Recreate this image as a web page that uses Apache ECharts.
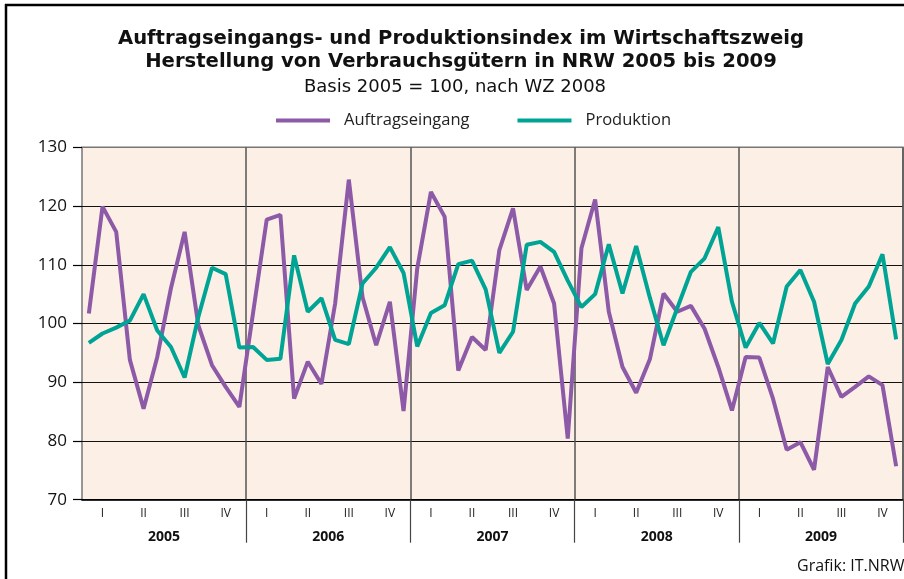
<!DOCTYPE html>
<html>
<head>
<meta charset="utf-8">
<script src="https://cdn.jsdelivr.net/npm/echarts@6/dist/echarts.min.js"></script>
<style>
html,body{margin:0;padding:0;background:#fff;}
#chart{width:904px;height:579px;}
</style>
</head>
<body>
<div id="chart"></div>
<script>
const years = ['2005', '2006', '2007', '2008', '2009'];
const quarterLabels = ['I', 'II', 'III', 'IV'];
const months = [];
years.forEach(function (y) { for (let m = 1; m <= 12; m++) months.push(y + '-' + (m < 10 ? '0' + m : m)); });

const auftragseingang = [
  101.7, 119.9, 115.6, 93.8, 85.5, 94.3, 106.0, 115.6, 99.7, 92.9, 89.2, 85.8,
  101.8, 117.7, 118.5, 87.2, 93.5, 89.7, 103.4, 124.5, 104.5, 96.3, 103.7, 85.1,
  109.4, 122.4, 118.2, 92.0, 97.7, 95.5, 112.5, 119.6, 105.7, 109.7, 103.4, 80.4,
  112.8, 121.1, 102.0, 92.6, 88.2, 93.9, 105.1, 102.0, 103.0, 99.1, 92.6, 85.2,
  94.3, 94.2, 87.2, 78.5, 79.8, 75.1, 92.6, 87.5, 89.2, 91.0, 89.5, 75.7
];
const produktion = [
  96.7, 98.3, 99.3, 100.5, 105.0, 98.8, 96.0, 90.8, 101.1, 109.5, 108.4, 95.9,
  96.0, 93.8, 94.0, 111.6, 102.0, 104.3, 97.2, 96.5, 106.8, 109.5, 113.0, 108.6,
  96.1, 101.8, 103.1, 110.1, 110.7, 105.8, 95.0, 98.6, 113.4, 113.9, 112.2, 107.3,
  102.8, 105.0, 113.5, 105.1, 113.2, 104.4, 96.3, 102.6, 108.8, 111.1, 116.4, 103.7,
  95.9, 100.1, 96.6, 106.3, 109.1, 103.7, 93.1, 97.2, 103.4, 106.3, 111.8, 97.3
];

const chart = echarts.init(document.getElementById('chart'), null, {renderer: 'canvas'});
const FONT = 'Open Sans';
chart.setOption({
  animation: false,
  backgroundColor: '#ffffff',
  textStyle: {fontFamily: FONT},
  title: [
    {
      text: 'Auftragseingangs- und Produktionsindex im Wirtschaftszweig\nHerstellung von Verbrauchsgütern in NRW 2005 bis 2009',
      left: 461, top: 27.5, padding: 0, textAlign: 'center',
      textStyle: {fontFamily: 'DejaVu Sans', fontSize: 19.6, fontWeight: 'bold', lineHeight: 23, color: '#111'}
    },
    {
      text: 'Basis 2005 = 100, nach WZ 2008',
      left: 455, top: 76, padding: 0, textAlign: 'center',
      textStyle: {fontFamily: 'DejaVu Sans', fontSize: 18, fontWeight: 'normal', lineHeight: 22, color: '#111'}
    },
    {
      text: 'Grafik: IT.NRW',
      left: 797, top: 558, padding: 0,
      textStyle: {fontFamily: FONT, fontSize: 16, fontWeight: 'normal', color: '#111'}
    }
  ],
  legend: {
    top: 112, left: 276, padding: 0,
    icon: 'rect', itemWidth: 54, itemHeight: 4, itemGap: 48,
    textStyle: {fontFamily: FONT, fontSize: 16.5, color: '#222', padding: [0, 0, 0, 9]},
    data: ['Auftragseingang', 'Produktion']
  },
  grid: {
    left: 82, right: 1, top: 147.3, bottom: 79.3,
    show: true, backgroundColor: '#fcefe6', borderColor: '#777', borderWidth: 1.5,
    containLabel: false
  },
  xAxis: [
    {
      type: 'category', data: months, boundaryGap: true,
      axisLine: {show: true, lineStyle: {color: '#000', width: 1.5}},
      axisTick: {show: true, length: 43, interval: function (i) { return i % 12 === 0 && i > 0; }, lineStyle: {color: '#444', width: 1.2}},
      splitLine: {show: true, interval: function (i) { return i % 12 === 0 && i > 0; }, lineStyle: {color: '#555', width: 1.5}},
      axisLabel: {
        interval: function (i) { return i % 3 === 1; },
        formatter: function (v, i) { return quarterLabels[Math.floor(i / 3) % 4]; },
        fontSize: 12, color: '#222', margin: 8, fontFamily: FONT
      }
    },
    {
      type: 'category', data: years, position: 'bottom', boundaryGap: true,
      axisLine: {show: false}, axisTick: {show: false}, splitLine: {show: false},
      axisLabel: {fontSize: 14, fontWeight: 'bold', color: '#111', margin: 30, fontFamily: FONT}
    }
  ],
  yAxis: {
    type: 'value', min: 70, max: 130, interval: 10,
    axisLine: {show: false},
    axisTick: {show: true, length: 9, lineStyle: {color: '#000', width: 1.2}},
    axisLabel: {fontSize: 17, color: '#111', margin: 15, fontFamily: FONT},
    splitLine: {show: true, lineStyle: {color: ['#000', '#111', '#111', '#111', '#111', '#111', '#777'], width: 1.2}}
  },
  graphic: [
    {type: 'line', shape: {x1: 6, y1: 4, x2: 6, y2: 579}, style: {stroke: '#000', lineWidth: 2.5}, z: 100},
    {type: 'line', shape: {x1: 5, y1: 5, x2: 904, y2: 5}, style: {stroke: '#000', lineWidth: 2.5}, z: 100}
  ],
  series: [
    {
      name: 'Auftragseingang', type: 'line', data: auftragseingang, xAxisIndex: 0,
      symbol: 'none', lineStyle: {color: '#8c5aa6', width: 4}, itemStyle: {color: '#8c5aa6'}
    },
    {
      name: 'Produktion', type: 'line', data: produktion, xAxisIndex: 0,
      symbol: 'none', lineStyle: {color: '#00a495', width: 4}, itemStyle: {color: '#00a495'}
    }
  ]
});
</script>
</body>
</html>
